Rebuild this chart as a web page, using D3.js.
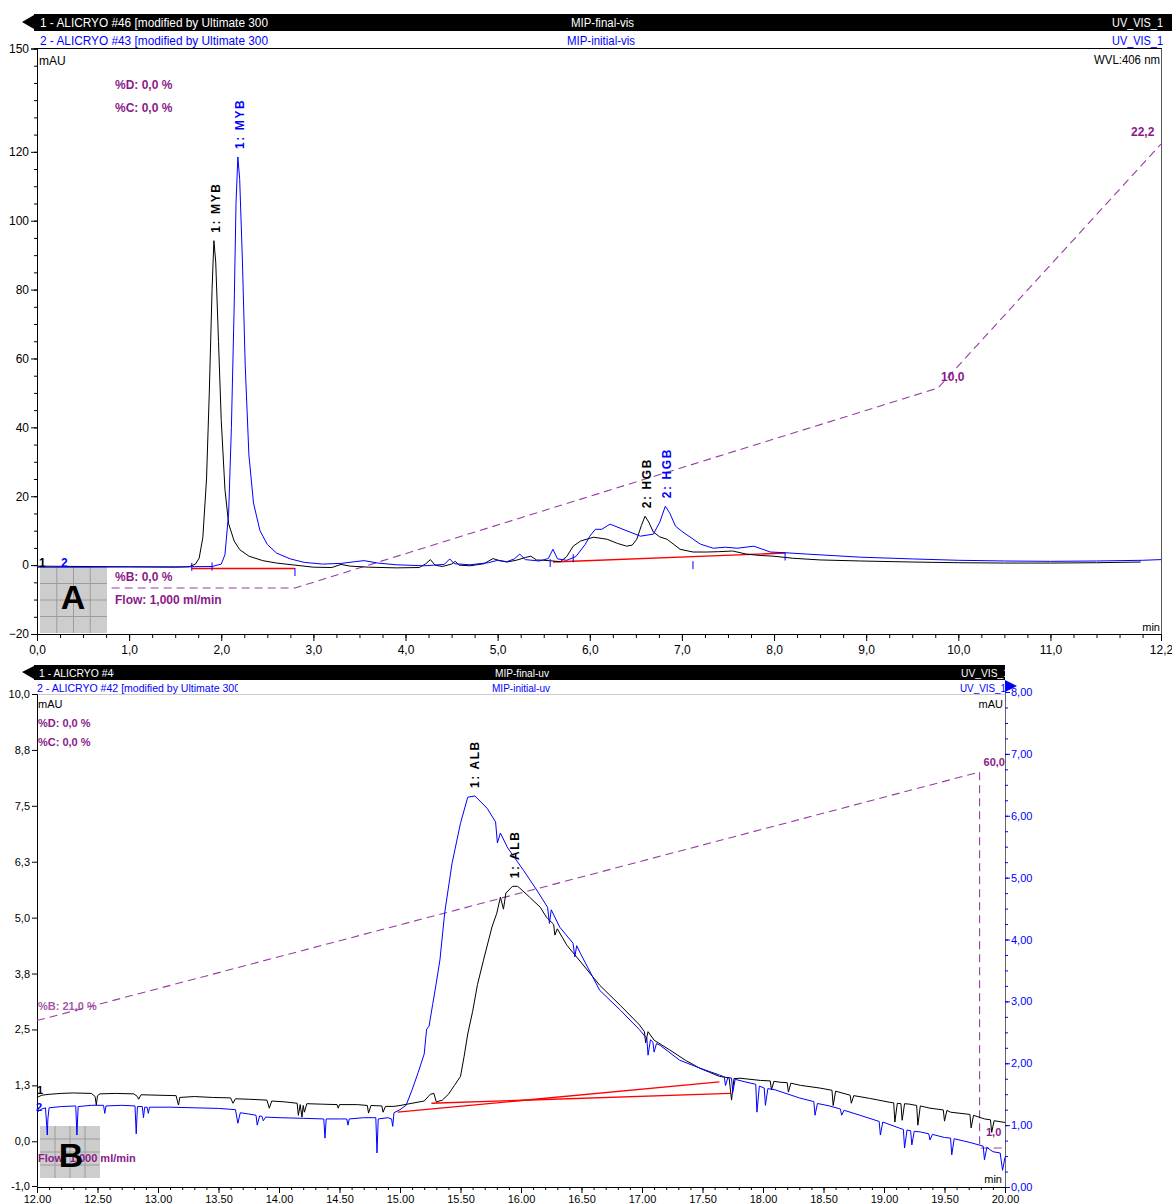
<!DOCTYPE html>
<html><head><meta charset="utf-8">
<script src="https://cdn.jsdelivr.net/npm/d3@7"></script>
<style>
body{margin:0;background:#fff;}
svg{display:block;font-family:"Liberation Sans Narrow","Liberation Sans",Arial,sans-serif;}
.tick text{font-family:"Liberation Sans Narrow","Liberation Sans",Arial,sans-serif;}
</style></head><body>
<svg id="chart" width="1172" height="1204"></svg>
<script>
// ---------- Panel A : visible (406 nm) chromatograms ----------
const blackA = [[0,-0.3],[0.5,-0.4],[1.0,-0.5],[1.5,-0.6],[1.65,-0.5],[1.72,0.3],[1.76,2],[1.8,8],[1.84,25],[1.87,50],[1.9,80],[1.92,94.2],[1.94,88],[1.97,65],[2.0,42],[2.04,22],[2.08,12],[2.14,7],[2.2,4.5],[2.3,2.6],[2.45,1.3],[2.6,0.6],[2.8,0],[3.0,-0.6],[3.2,-0.7],[3.3,0.2],[3.4,-0.3],[3.6,-0.6],[3.9,-0.8],[4.15,-0.7],[4.22,0.4],[4.27,1.6],[4.32,0],[4.4,-0.4],[4.5,0.3],[4.54,1.1],[4.58,0],[4.7,-0.2],[4.85,0.4],[4.95,1.9],[5.02,1.3],[5.1,0.9],[5.2,1.4],[5.3,2.2],[5.36,2.6],[5.42,1.5],[5.5,1.4],[5.6,1.2],[5.68,1.0],[5.75,2.5],[5.82,5.5],[5.9,7.0],[6.04,8.1],[6.19,7.5],[6.3,6.3],[6.4,5.5],[6.46,5.8],[6.51,7.5],[6.56,11.5],[6.6,14.2],[6.64,12.5],[6.69,9.6],[6.76,8.2],[6.84,7.5],[6.98,4.6],[7.12,3.8],[7.27,3.8],[7.4,3.9],[7.55,4.1],[7.7,3.2],[7.85,2.8],[7.99,2.6],[8.2,2.0],[8.5,1.5],[8.94,1.2],[9.5,0.9],[10.0,0.7],[10.5,0.6],[11.0,0.6],[11.5,0.7],[11.98,0.9]];
const blueA = [[0,-0.6],[0.5,-0.6],[1.0,-0.5],[1.5,-0.5],[1.9,-0.4],[2.0,0.3],[2.04,3],[2.08,15],[2.11,40],[2.14,75],[2.16,105],[2.18,118.5],[2.2,112],[2.23,88],[2.26,58],[2.3,32],[2.35,18],[2.42,10],[2.5,6],[2.6,3.5],[2.75,1.8],[2.9,0.8],[3.1,0.3],[3.3,0.5],[3.45,1.0],[3.55,1.3],[3.7,0.6],[3.9,0.1],[4.2,-0.2],[4.42,0.2],[4.48,1.8],[4.53,0.4],[4.7,0.1],[4.9,0.7],[5.0,1.4],[5.1,1.0],[5.18,1.8],[5.24,3.2],[5.3,1.6],[5.45,1.2],[5.55,1.9],[5.6,4.6],[5.65,1.8],[5.75,1.4],[5.85,2.5],[5.95,6.0],[6.0,8.4],[6.06,10.4],[6.13,10.4],[6.22,11.9],[6.36,10.4],[6.55,8.4],[6.69,9.0],[6.76,12.5],[6.82,17.1],[6.87,15.0],[6.93,11.3],[7.01,9.6],[7.2,6.1],[7.34,4.9],[7.47,5.2],[7.6,4.9],[7.78,5.5],[7.96,3.8],[8.12,3.6],[8.36,3.2],[8.94,2.3],[9.5,1.8],[10.0,1.4],[10.5,1.2],[11.0,1.1],[11.5,1.2],[12.0,1.4],[12.2,1.6]];
const baselinesA = [[[1.68,-1.0],[2.8,-1.0]],[[5.6,0.9],[8.12,3.5]]];
const blueMarksA = [[1.68,-0.5],[1.9,-0.4],[2.8,-2.0],[5.57,0.6],[5.82,2.0],[7.12,0.0],[8.12,2.5]];
const gradientA = [[0.81,0],[2.8,0],[9.78,10],[12.2,22.2]];
const peaksA = [
  {name:"1: MYB", t:1.92, v:94.2, color:"#000"},
  {name:"1: MYB", t:2.18, v:118.5, color:"#0000ff"},
  {name:"2: HGB", t:6.6, v:14.2, color:"#000"},
  {name:"2: HGB", t:6.82, v:17.1, color:"#0000ff"}
];
const yTicksA = [-20,0,20,40,60,80,100,120,150];
const xTicksA = [0,1,2,3,4,5,6,7,8,9,10,11,12.2];
const xTickLabelsA = ["0,0","1,0","2,0","3,0","4,0","5,0","6,0","7,0","8,0","9,0","10,0","11,0","12,2"];

// ---------- Panel B : UV chromatograms ----------
const blackB = [[12.00,0.98],[12.04,1.03],[12.1,1.05],[12.2,1.07],[12.3,1.08],[12.45,1.07],[12.48,1.0],[12.49,0.81],[12.5,1.02],[12.52,1.06],[12.65,1.07],[12.8,1.06],[12.83,1.0],[12.84,0.94],[12.86,1.04],[13.0,1.03],[13.15,1.02],[13.16,0.9],[13.17,0.81],[13.18,0.98],[13.3,1.0],[13.45,0.98],[13.6,0.97],[13.62,0.85],[13.64,0.95],[13.75,0.94],[13.9,0.92],[13.92,0.74],[13.94,0.9],[14.05,0.88],[14.15,0.85],[14.16,0.58],[14.175,0.82],[14.19,0.54],[14.2,0.8],[14.21,0.65],[14.23,0.84],[14.35,0.83],[14.48,0.82],[14.49,0.74],[14.5,0.82],[14.65,0.82],[14.73,0.8],[14.74,0.63],[14.76,0.8],[14.85,0.79],[14.86,0.65],[14.88,0.78],[14.95,0.78],[15.0,0.8],[15.1,0.85],[15.2,0.9],[15.25,1.05],[15.28,1.07],[15.3,0.88],[15.35,0.92],[15.4,1.05],[15.45,1.25],[15.5,1.45],[15.53,1.9],[15.56,2.4],[15.6,2.9],[15.64,3.5],[15.69,4.05],[15.76,4.79],[15.8,5.1],[15.83,5.46],[15.855,5.19],[15.875,5.55],[15.93,5.7],[15.97,5.7],[15.99,5.66],[16.07,5.46],[16.16,5.23],[16.21,5.01],[16.27,4.85],[16.28,4.61],[16.3,4.75],[16.38,4.38],[16.46,4.12],[16.65,3.49],[16.82,3.04],[16.98,2.6],[17.02,2.45],[17.03,2.2],[17.05,2.45],[17.1,2.26],[17.23,2.04],[17.36,1.81],[17.48,1.63],[17.56,1.54],[17.64,1.45],[17.72,1.42],[17.74,0.92],[17.76,1.40],[17.81,1.41],[17.98,1.36],[18.06,1.35],[18.07,1.15],[18.09,1.34],[18.14,1.32],[18.2,1.31],[18.21,1.1],[18.23,1.3],[18.31,1.25],[18.47,1.19],[18.57,1.14],[18.58,0.8],[18.6,1.12],[18.72,1.03],[18.73,0.85],[18.75,1.02],[18.88,0.96],[19.05,0.87],[19.08,0.86],[19.09,0.43],[19.11,0.85],[19.14,0.84],[19.15,0.47],[19.17,0.84],[19.21,0.83],[19.27,0.8],[19.28,0.36],[19.3,0.79],[19.38,0.74],[19.49,0.7],[19.5,0.45],[19.52,0.69],[19.55,0.65],[19.71,0.6],[19.72,0.3],[19.74,0.58],[19.83,0.5],[19.88,0.48],[19.89,0.2],[19.91,0.46],[20.0,0.42]];
const blueB = [[12.0,1.21],[12.04,1.26],[12.07,1.28],[12.08,1.0],[12.085,0.84],[12.09,1.1],[12.1,1.28],[12.2,1.3],[12.32,1.31],[12.33,0.84],[12.34,1.3],[12.45,1.32],[12.55,1.32],[12.56,1.19],[12.57,1.31],[12.7,1.32],[12.81,1.31],[12.82,0.86],[12.83,1.3],[12.87,1.3],[12.88,1.12],[12.89,1.29],[12.91,1.29],[12.92,1.19],[12.93,1.29],[13.1,1.29],[13.3,1.28],[13.5,1.27],[13.64,1.25],[13.66,1.03],[13.68,1.2],[13.75,1.18],[13.81,1.16],[13.82,1.0],[13.84,1.15],[13.86,1.14],[13.87,1.07],[13.89,1.13],[14.0,1.12],[14.2,1.11],[14.37,1.1],[14.38,0.79],[14.39,1.1],[14.5,1.1],[14.56,1.1],[14.57,1.0],[14.58,1.1],[14.7,1.12],[14.8,1.12],[14.81,0.55],[14.82,1.1],[14.9,1.12],[14.93,1.1],[14.94,0.98],[14.95,1.2],[15.0,1.25],[15.05,1.32],[15.1,1.57],[15.15,1.85],[15.2,2.15],[15.22,2.55],[15.24,2.6],[15.27,2.95],[15.3,3.3],[15.33,3.67],[15.37,4.44],[15.43,5.23],[15.5,5.88],[15.56,6.3],[15.62,6.32],[15.72,6.12],[15.79,5.9],[15.805,5.56],[15.83,5.72],[15.89,5.48],[16.02,5.12],[16.13,4.8],[16.22,4.52],[16.235,4.26],[16.25,4.48],[16.32,4.2],[16.43,3.94],[16.445,3.72],[16.46,3.9],[16.49,3.78],[16.65,3.18],[16.82,2.86],[16.98,2.54],[17.04,2.4],[17.05,2.13],[17.07,2.38],[17.09,2.34],[17.1,2.18],[17.12,2.32],[17.15,2.29],[17.31,2.05],[17.48,1.92],[17.64,1.81],[17.68,1.78],[17.69,1.64],[17.71,1.77],[17.74,1.76],[17.75,1.53],[17.77,1.74],[17.85,1.7],[17.94,1.66],[17.95,1.21],[17.97,1.63],[18.01,1.6],[18.02,1.32],[18.04,1.59],[18.1,1.57],[18.3,1.44],[18.42,1.38],[18.43,1.16],[18.45,1.35],[18.55,1.31],[18.64,1.26],[18.65,1.16],[18.67,1.24],[18.8,1.16],[18.96,1.06],[18.97,0.84],[18.99,1.05],[19.13,0.95],[19.16,0.93],[19.17,0.63],[19.19,0.92],[19.22,0.91],[19.23,0.68],[19.25,0.9],[19.3,0.89],[19.37,0.86],[19.38,0.76],[19.4,0.85],[19.5,0.8],[19.55,0.79],[19.56,0.52],[19.58,0.78],[19.71,0.72],[19.82,0.66],[19.83,0.44],[19.85,0.64],[19.9,0.57],[19.96,0.55],[19.98,0.27],[20.0,0.48]];
const baselineBlack = [[15.26,0.85],[17.73,1.07]];
const baselineBlue = [[14.98,1.21],[17.64,1.70]];
const gradientB = [[12,21],[19.79,60],[19.79,1],[20,1]];
const peaksB = [
  {name:"1: ALB", t:15.62, v:6.32, axis:"right"},
  {name:"1: ALB", t:15.95, v:5.7, axis:"left"}
];
const yTicksBL = [10,8.75,7.5,6.25,5,3.75,2.5,1.25,0,-1];
const yTickLabelsBL = ["10,0","8,8","7,5","6,3","5,0","3,8","2,5","1,3","0,0","-1,0"];
const yTicksBR = [0,1,2,3,4,5,6,7,8];
const yTickLabelsBR = ["0,00","1,00","2,00","3,00","4,00","5,00","6,00","7,00","8,00"];
const xTicksB = [12,12.5,13,13.5,14,14.5,15,15.5,16,16.5,17,17.5,18,18.5,19,19.5,20];
const xTickLabelsB = ["12.00","12.50","13.00","13.50","14.00","14.50","15.00","15.50","16.00","16.50","17.00","17.50","18.00","18.50","19.00","19.50","20.00"];

// ---------- drawing ----------
const PURPLE = "#8a1a8a", DASH = "#9a3aa8", BLUE = "#0000ff", RED = "#ff0000";
const svg = d3.select("#chart");
svg.append("rect").attr("width",1172).attr("height",1204).attr("fill","#fff");

function txt(g, s, x, y, o = {}) {
  const t = g.append("text").attr("x", x).attr("y", y).text(s)
    .attr("font-size", o.size || 12).attr("fill", o.fill || "#000")
    .attr("font-weight", o.bold ? "bold" : null)
    .attr("text-anchor", o.anchor || "start");
  if (o.len) t.attr("textLength", o.len).attr("lengthAdjust", "spacingAndGlyphs");
  if (o.family) t.attr("font-family", o.family);
  if (o.clip) t.attr("clip-path", o.clip);
  return t;
}
const defs = svg.append("defs");
function clipRect(id, x, y, w, h) {
  defs.append("clipPath").attr("id", id).append("rect").attr("x", x).attr("y", y).attr("width", w).attr("height", h);
  return `url(#${id})`;
}
function styleAxis(g, size) {
  g.select(".domain").attr("stroke", "#000");
  g.selectAll(".tick line").attr("stroke", "#000");
  g.selectAll(".tick text").attr("font-size", size).attr("fill", "#000");
}
function grayBox(g, x, y, w, h) {
  g.append("rect").attr("x", x).attr("y", y).attr("width", w).attr("height", h).attr("fill", "#cdcdcd");
  for (let i = 1; i < 4; i++) {
    g.append("line").attr("x1", x + i * w / 4).attr("x2", x + i * w / 4).attr("y1", y).attr("y2", y + h).attr("stroke", "#9c9c9c");
    g.append("line").attr("y1", y + i * h / 4).attr("y2", y + i * h / 4).attr("x1", x).attr("x2", x + w).attr("stroke", "#9c9c9c");
  }
}
const BOLD = "\"Liberation Sans\",Arial,sans-serif";

// ===== Panel A =====
const A = svg.append("g");
const xA = d3.scaleLinear().domain([0, 12.2]).range([37, 1161]);
const yA = d3.scaleLinear().domain([-20, 150]).range([634, 48.5]);
const gA = d3.scaleLinear().domain([0, 22.2]).range([588, 144]);

// header
A.append("path").attr("d", "M22,22L34,15L34,29Z").attr("fill", "#000");
A.append("rect").attr("x", 34).attr("y", 14).attr("width", 1138).attr("height", 17).attr("fill", "#000");
txt(A, "1 - ALICRYO #46 [modified by Ultimate 300", 40, 27, {fill:"#fff", len:228});
txt(A, "MIP-final-vis", 571, 27, {fill:"#fff", len:63});
txt(A, "UV_VIS_1", 1112, 27, {fill:"#fff", len:51});
txt(A, "2 - ALICRYO #43 [modified by Ultimate 300", 40, 45, {fill:BLUE, len:228});
txt(A, "MIP-initial-vis", 567, 45, {fill:BLUE, len:68});
txt(A, "UV_VIS_1", 1112, 45, {fill:BLUE, len:51});
A.append("line").attr("x1", 34).attr("x2", 1162).attr("y1", 48.5).attr("y2", 48.5).attr("stroke", "#000");
A.append("line").attr("x1", 1161.5).attr("x2", 1161.5).attr("y1", 48.5).attr("y2", 634).attr("stroke", "#555");
txt(A, "mAU", 39, 65, {size:12});
txt(A, "WVL:406 nm", 1160, 64, {anchor:"end", len:66});
txt(A, "min", 1160, 631, {anchor:"end", size:11});

// axes
const axAy = A.append("g").attr("transform", "translate(37,0)")
  .call(d3.axisLeft(yA).tickValues(yTicksA).tickSize(6).tickPadding(2).tickFormat(d3.format("d")));
styleAxis(axAy, 12);
A.append("g").attr("transform", "translate(37,0)")
  .call(d3.axisLeft(yA).tickValues(d3.range(-20, 150.1, 5)).tickSize(3).tickFormat(""))
  .call(g => { g.select(".domain").remove(); g.selectAll("line").attr("stroke", "#000"); });
const axAx = A.append("g").attr("transform", "translate(0,634)")
  .call(d3.axisBottom(xA).tickValues(xTicksA).tickSize(7).tickPadding(4).tickFormat((d, i) => xTickLabelsA[i]));
styleAxis(axAx, 12);
A.append("g").attr("transform", "translate(0,634)")
  .call(d3.axisBottom(xA).tickValues(d3.range(0, 12.01, 0.25)).tickSize(4).tickFormat(""))
  .call(g => { g.select(".domain").remove(); g.selectAll("line").attr("stroke", "#000"); });

// gray box and text
grayBox(A, 40, 567, 67, 66);
txt(A, "A", 73, 609, {size:34, bold:true, anchor:"middle", family:BOLD});
txt(A, "%D: 0,0 %", 115, 89, {fill:PURPLE, bold:true, family:BOLD, size:12});
txt(A, "%C: 0,0 %", 115, 112, {fill:PURPLE, bold:true, family:BOLD, size:12});
txt(A, "%B: 0,0 %", 115, 581, {fill:PURPLE, bold:true, family:BOLD, size:12});
txt(A, "Flow: 1,000 ml/min", 115, 604, {fill:PURPLE, bold:true, family:BOLD, size:12});

// gradient
const lineGA = d3.line().x(d => xA(d[0])).y(d => gA(d[1]));
A.append("path").attr("d", lineGA(gradientA)).attr("fill", "none").attr("stroke", DASH).attr("stroke-width", 1.1).attr("stroke-dasharray", "8,5");
txt(A, "10,0", xA(gradientA[2][0]) + 3, gA(gradientA[2][1]) - 7, {fill:PURPLE, bold:true, family:BOLD});
txt(A, "22,2", xA(gradientA[3][0]) - 30, gA(gradientA[3][1]) - 8, {fill:PURPLE, bold:true, family:BOLD});

// traces
const lineA = d3.line().x(d => xA(d[0])).y(d => yA(d[1]));
baselinesA.forEach(b => A.append("path").attr("d", lineA(b)).attr("stroke", RED).attr("stroke-width", 1.4).attr("fill", "none"));
A.append("path").attr("d", lineA(blackA)).attr("fill", "none").attr("stroke", "#000").attr("stroke-width", 1);
A.append("path").attr("d", lineA(blueA)).attr("fill", "none").attr("stroke", BLUE).attr("stroke-width", 1);
blueMarksA.forEach(m => A.append("line").attr("x1", xA(m[0])).attr("x2", xA(m[0]))
  .attr("y1", yA(m[1]) - 4).attr("y2", yA(m[1]) + 4).attr("stroke", BLUE).attr("stroke-width", 1));
txt(A, "1", 39, 567, {bold:true, family:BOLD});
txt(A, "2", 61, 567, {bold:true, family:BOLD, fill:BLUE});

function peakLabel(g, s, x, y, color) {
  g.append("text").attr("transform", `translate(${x},${y}) rotate(-90)`).text(s)
    .attr("font-size", 12).attr("font-weight", "bold").attr("font-family", BOLD)
    .attr("letter-spacing", 1.6).attr("fill", color);
}
peaksA.forEach(p => peakLabel(A, p.name, xA(p.t) + 6, yA(p.v) - 8, p.color));

// ===== Panel B =====
const B = svg.append("g");
const xB = d3.scaleLinear().domain([12, 20]).range([37, 1005]);
const yBL = d3.scaleLinear().domain([-1, 10]).range([1186, 694]);
const yBR = d3.scaleLinear().domain([0, 8]).range([1187, 692]);
const gB = d3.scaleLinear().domain([1, 60]).range([1148, 772]);

// header
B.append("path").attr("d", "M22,672L34,666L34,679Z").attr("fill", "#000");
B.append("rect").attr("x", 34).attr("y", 665).attr("width", 971).attr("height", 15).attr("fill", "#000");
const clipB1 = clipRect("cb1", 34, 660, 80, 25);
const clipB2 = clipRect("cb2", 34, 680, 204, 16);
const clipB3 = clipRect("cb3", 34, 660, 971, 25);
txt(B, "1 - ALICRYO #46 [modified by Ultimate 300", 39, 677, {fill:"#fff", len:200, size:11, clip:clipB1});
txt(B, "MIP-final-uv", 495, 677, {fill:"#fff", len:54, size:11});
txt(B, "UV_VIS_1", 961, 677, {fill:"#fff", len:48, size:11, clip:clipB3});
txt(B, "2 - ALICRYO #42 [modified by Ultimate 300", 37, 692, {fill:BLUE, len:203, size:11, clip:clipB2});
txt(B, "MIP-initial-uv", 492, 692, {fill:BLUE, len:58, size:11});
txt(B, "UV_VIS_1", 960, 692, {fill:BLUE, len:46, size:11});
B.append("path").attr("d", "M1005,680L1017,686L1005,692Z").attr("fill", BLUE);
B.append("line").attr("x1", 37).attr("x2", 1005).attr("y1", 694.5).attr("y2", 694.5).attr("stroke", "#ccc");
txt(B, "mAU", 38, 708, {size:11});
txt(B, "mAU", 1003, 708, {size:11, anchor:"end"});
txt(B, "min", 1002, 1183, {size:11, anchor:"end"});

// axes
const axBL = B.append("g").attr("transform", "translate(37,0)")
  .call(d3.axisLeft(yBL).tickValues(yTicksBL).tickSize(5).tickPadding(2).tickFormat((d, i) => yTickLabelsBL[i]));
styleAxis(axBL, 11);
const axBR = B.append("g").attr("transform", "translate(1005,0)")
  .call(d3.axisRight(yBR).tickValues(yTicksBR).tickSize(5).tickPadding(1).tickFormat((d, i) => yTickLabelsBR[i]));
styleAxis(axBR, 11);
axBR.select(".domain").attr("stroke", "#666");
axBR.selectAll(".tick text").attr("fill", BLUE);
axBR.selectAll(".tick line").attr("stroke", BLUE);
B.append("g").attr("transform", "translate(1005,0)")
  .call(d3.axisRight(yBR).tickValues(d3.range(0, 8.01, 0.25)).tickSize(3).tickFormat(""))
  .call(g => { g.select(".domain").remove(); g.selectAll("line").attr("stroke", BLUE); });
const axBx = B.append("g").attr("transform", "translate(0,1187)")
  .call(d3.axisBottom(xB).tickValues(xTicksB).tickSize(6).tickPadding(2).tickFormat((d, i) => xTickLabelsB[i]));
styleAxis(axBx, 11);
B.append("g").attr("transform", "translate(0,1187)")
  .call(d3.axisBottom(xB).tickValues(d3.range(12, 20.001, 0.1)).tickSize(3).tickFormat(""))
  .call(g => { g.select(".domain").remove(); g.selectAll("line").attr("stroke", "#000"); });

grayBox(B, 40, 1126, 60, 52);
txt(B, "%D: 0,0 %", 38, 727, {fill:PURPLE, bold:true, family:BOLD, size:11});
txt(B, "%C: 0,0 %", 38, 746, {fill:PURPLE, bold:true, family:BOLD, size:11});
txt(B, "%B: 21,0 %", 38, 1010, {fill:"#a45aa8", bold:true, family:BOLD, size:11});

// gradient
const lineGB = d3.line().x(d => xB(d[0])).y(d => gB(d[1]));
B.append("path").attr("d", lineGB(gradientB)).attr("fill", "none").attr("stroke", DASH).attr("stroke-width", 1.1).attr("stroke-dasharray", "8,5");
txt(B, "60,0", xB(gradientB[1][0]) + 4, gB(gradientB[1][1]) - 6, {fill:PURPLE, bold:true, family:BOLD, size:11});

// traces
const lineBL = d3.line().x(d => xB(d[0])).y(d => yBL(d[1]));
const lineBR = d3.line().x(d => xB(d[0])).y(d => yBR(d[1]));
B.append("path").attr("d", lineBR(baselineBlue)).attr("stroke", RED).attr("stroke-width", 1.3).attr("fill", "none");
B.append("path").attr("d", lineBL(baselineBlack)).attr("stroke", RED).attr("stroke-width", 1.3).attr("fill", "none");
B.append("path").attr("d", lineBL(blackB)).attr("fill", "none").attr("stroke", "#000").attr("stroke-width", 1);
B.append("path").attr("d", lineBR(blueB)).attr("fill", "none").attr("stroke", BLUE).attr("stroke-width", 1);
txt(B, "1,0", xB(gradientB[3][0]) - 19, gB(gradientB[3][1]) - 12, {fill:PURPLE, bold:true, family:BOLD, size:11});
txt(B, "Flow: 1,000 ml/min", 38, 1162, {fill:PURPLE, bold:true, family:BOLD, size:11});
txt(B, "B", 71, 1167, {size:34, bold:true, anchor:"middle", family:BOLD});
txt(B, "1", 37, 1094, {bold:true, family:BOLD, size:11});
txt(B, "2", 36, 1111, {bold:true, family:BOLD, size:11, fill:BLUE});
peaksB.forEach(p => {
  const y = p.axis === "right" ? yBR(p.v) : yBL(p.v);
  peakLabel(B, p.name, xB(p.t) + 4, y - 8, "#000");
});
</script>
</body></html>
